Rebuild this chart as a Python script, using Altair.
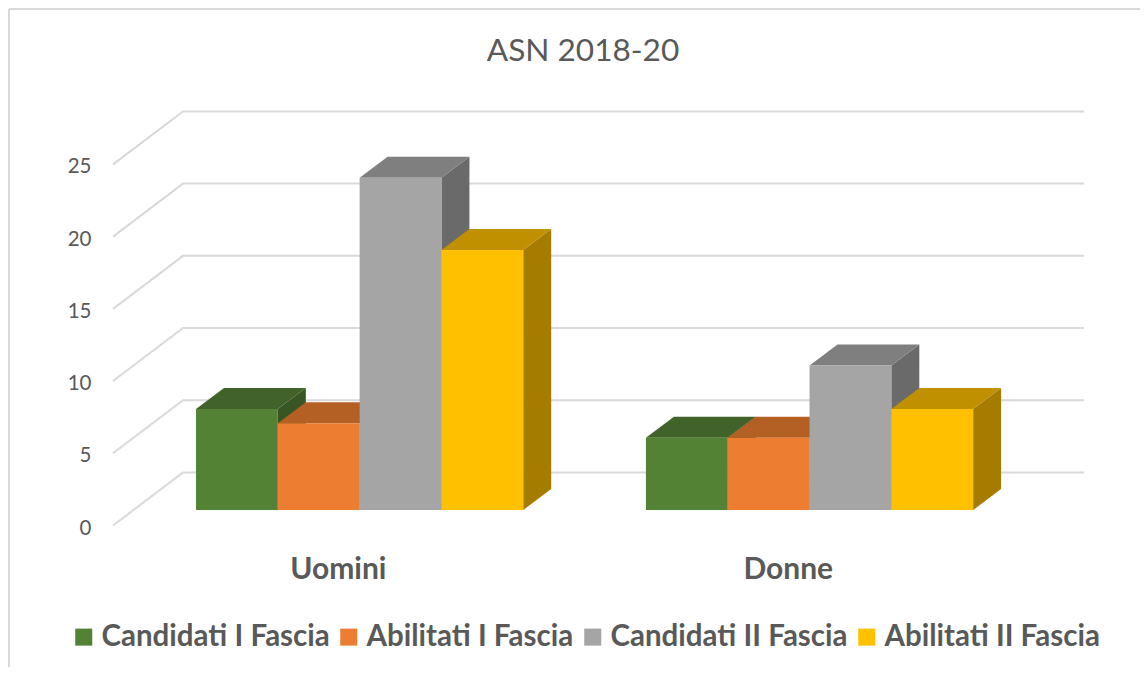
import altair as alt
import pandas as pd

TITLE = "ASN 2018-20"
CATEGORIES = ["Uomini", "Donne"]
SERIES = ["Candidati I Fascia", "Abilitati I Fascia", "Candidati II Fascia", "Abilitati II Fascia"]
UOMINI = [7, 6, 23, 18]
DONNE = [5, 5, 10, 7]
TICKS = [0, 5, 10, 15, 20, 25]
FRONT = ["#548235", "#ED7D31", "#A5A5A5", "#FFC000"]
TOP = ["#416229", "#B45F24", "#7F7F7F", "#C09000"]
SIDE = ["#375623", "#9E5220", "#6A6A6A", "#A67C00"]

# layout, in chart units: 1 x unit = one bar width, 1 y unit = one value unit
GROUP_START = [0.0, 5.5]
DEPTH_X, DEPTH_Y = 0.342, 1.454
FLOOR_FRONT, FLOOR_BACK = -1.07, 2.6
WALL_LEFT_FRONT, WALL_LEFT, WALL_RIGHT = -1.015, -0.159, 10.856
X_DOMAIN = [-1.174, 11.54]
Y_DOMAIN = [-1.73, 28.39]
PLOT_W, PLOT_H = 1040, 435
GREY = "#595959"
FONT = "Lato"

x_scale = alt.Scale(domain=X_DOMAIN, nice=False, zero=False)
y_scale = alt.Scale(domain=Y_DOMAIN, nice=False, zero=False)
color_scale = alt.Scale(domain=SERIES, range=FRONT)
y_axis = alt.Axis(
    values=TICKS, domain=False, ticks=False, grid=False, title=None,
    labelFont=FONT, labelFontSize=20.5, labelColor=GREY, labelPadding=9, labelOffset=18)

# grid
grid_rows = []
for t in TICKS:
    grid_rows += [
        {"t": t, "x": WALL_LEFT_FRONT, "y": t + FLOOR_FRONT, "o": 0},
        {"t": t, "x": WALL_LEFT, "y": t + FLOOR_BACK, "o": 1},
        {"t": t, "x": WALL_RIGHT, "y": t + FLOOR_BACK, "o": 2},
    ]
grid = alt.Chart(pd.DataFrame(grid_rows)).mark_line(color="#D9D9D9", strokeWidth=2).encode(
    x=alt.X("x:Q", scale=x_scale, axis=None),
    y=alt.Y("y:Q", scale=y_scale, axis=y_axis),
    detail="t:N",
    order="o:Q",
)

layers = [grid]
for s, name in enumerate(SERIES):
    front, side, top = [], [], []
    for g, vals in enumerate([UOMINI, DONNE]):
        v = vals[s]
        x0 = GROUP_START[g] + s
        x1 = x0 + 1
        front.append({"serie": name, "x0": x0, "x1": x1, "y0": 0, "y1": v})
        side += [
            {"g": g, "x": x1, "y": v, "y2": 0},
            {"g": g, "x": x1 + DEPTH_X, "y": v + DEPTH_Y, "y2": DEPTH_Y},
        ]
        top += [
            {"g": g, "y": v, "x": x0, "x2": x1},
            {"g": g, "y": v + DEPTH_Y, "x": x0 + DEPTH_X, "x2": x1 + DEPTH_X},
        ]
    layers.append(
        alt.Chart(pd.DataFrame(side)).mark_area(color=SIDE[s], orient="vertical").encode(
            x=alt.X("x:Q", scale=x_scale, axis=None),
            y=alt.Y("y:Q", scale=y_scale, axis=y_axis, stack=None),
            y2="y2:Q", detail="g:N")
    )
    layers.append(
        alt.Chart(pd.DataFrame(top)).mark_area(color=TOP[s], orient="horizontal").encode(
            y=alt.Y("y:Q", scale=y_scale, axis=y_axis),
            x=alt.X("x:Q", scale=x_scale, axis=None, stack=None),
            x2="x2:Q", detail="g:N")
    )
    layers.append(
        alt.Chart(pd.DataFrame(front)).mark_bar().encode(
            x=alt.X("x0:Q", scale=x_scale, axis=None),
            x2="x1:Q",
            y=alt.Y("y0:Q", scale=y_scale, axis=y_axis),
            y2="y1:Q",
            color=alt.Color("serie:N", scale=color_scale, legend=alt.Legend(
                title=None, orient="none", legendX=-31, legendY=522, direction="horizontal",
                columns=4, symbolType="square", symbolSize=290, symbolStrokeWidth=0,
                labelFont=FONT, labelFontWeight="bold", labelFontSize=29.5, labelColor=GREY,
                labelOffset=3, columnPadding=4, labelLimit=400)),
        )
    )

labels = alt.Chart(pd.DataFrame({
    "cat": CATEGORIES,
    "x": [GROUP_START[0] + 1.74, GROUP_START[1] + 1.74],
    "y": [-4.14, -4.14],
})).mark_text(font=FONT, fontWeight="bold", fontSize=30, color=GREY, baseline="middle").encode(
    x=alt.X("x:Q", scale=x_scale, axis=None),
    y=alt.Y("y:Q", scale=y_scale, axis=y_axis),
    text="cat:N",
)
layers.append(labels)

frame_top = alt.Chart(pd.DataFrame({"a": [0]})).mark_rule(color="#D9D9D9", strokeWidth=2).encode(
    x=alt.value(-91), x2=alt.value(PLOT_W), y=alt.value(-91))
frame_left = alt.Chart(pd.DataFrame({"a": [0]})).mark_rule(color="#D9D9D9", strokeWidth=2).encode(
    x=alt.value(-91), y=alt.value(-91), y2=alt.value(PLOT_H + 132))
layers += [frame_top, frame_left]

chart = alt.layer(*layers).resolve_scale(x="shared", y="shared").properties(
    width=PLOT_W, height=PLOT_H,
    padding={"left": 92, "top": 92, "right": 0, "bottom": 132},
    autosize=alt.AutoSizeParams(type="none"),
    title=alt.Title(TITLE, font=FONT, fontSize=31.6, fontWeight="normal", color=GREY,
                    anchor="middle", dx=-37, offset=-60, frame="group"),
).configure_view(stroke=None)

chart.save("out.html", embed_options={"renderer": "svg", "actions": False})
